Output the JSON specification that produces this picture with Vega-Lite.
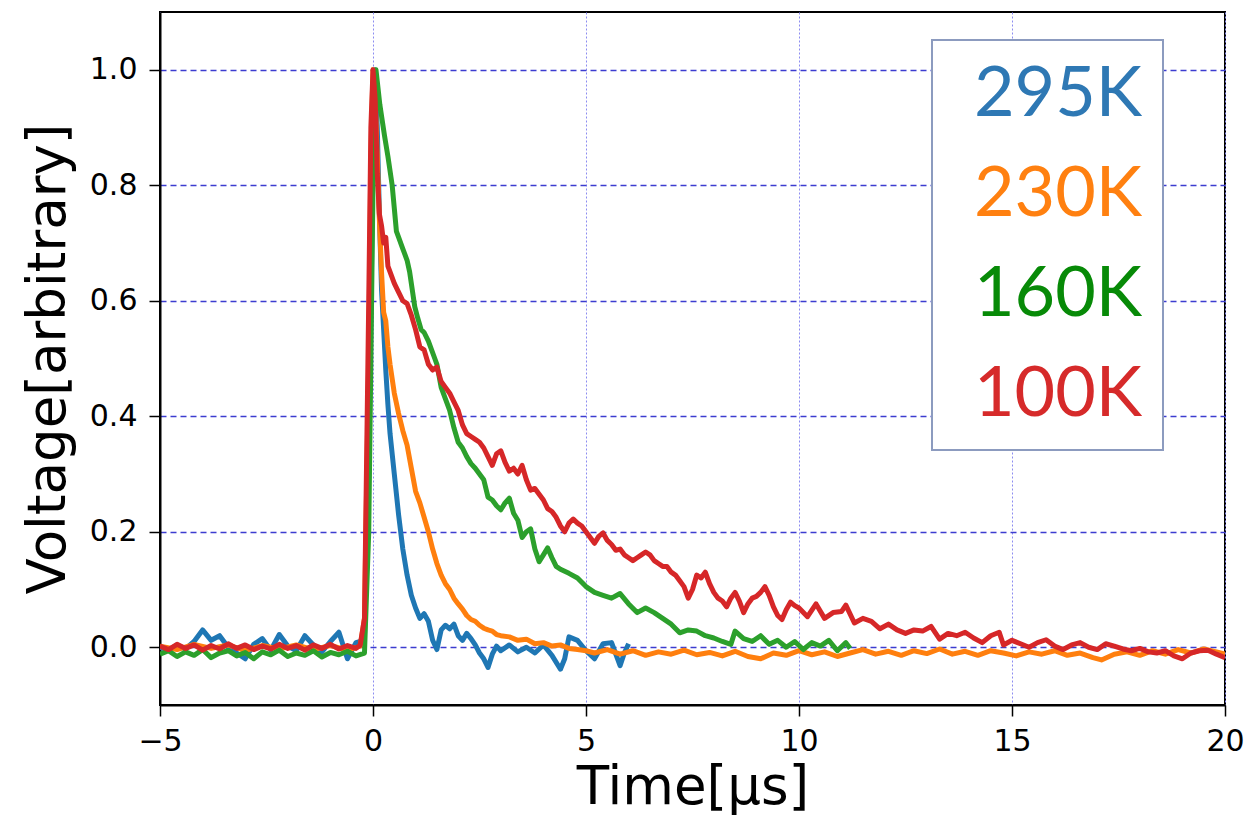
{
"$schema": "https://vega.github.io/schema/vega-lite/v6.json",
"width": 1065, "height": 693,
"autosize": {"type": "none"},
"padding": {"left": 160, "top": 12, "right": 23, "bottom": 111},
"background": "white",
"config": {
  "view": {"stroke": "black", "strokeWidth": 2},
  "font": "DejaVu Sans",
  "axis": {"labelColor": "black", "titleColor": "black", "tickColor": "black", "domainColor": "black", "domainWidth": 2, "tickWidth": 1.5, "tickSize": 11, "labelFontSize": 30, "titleFontSize": 53, "titleFontWeight": "normal", "labelFont": "DejaVu Sans", "titleFont": "DejaVu Sans"}
},
"data": {"values": [
{"s":"295K","t":-5,"v":0.0},{"s":"295K","t":-4.8,"v":-0.005},{"s":"295K","t":-4.6,"v":0.004},{"s":"295K","t":-4.4,"v":-0.003},{"s":"295K","t":-4.2,"v":0.01},{"s":"295K","t":-4.0,"v":0.03},{"s":"295K","t":-3.8,"v":0.012},{"s":"295K","t":-3.6,"v":0.02},{"s":"295K","t":-3.4,"v":0.0},{"s":"295K","t":-3.2,"v":-0.01},{"s":"295K","t":-3.0,"v":-0.02},{"s":"295K","t":-2.8,"v":0.005},{"s":"295K","t":-2.6,"v":0.015},{"s":"295K","t":-2.4,"v":-0.005},{"s":"295K","t":-2.2,"v":0.022},{"s":"295K","t":-2.0,"v":0.002},{"s":"295K","t":-1.8,"v":-0.006},{"s":"295K","t":-1.6,"v":0.02},{"s":"295K","t":-1.4,"v":0.004},{"s":"295K","t":-1.2,"v":-0.008},{"s":"295K","t":-1.0,"v":0.01},{"s":"295K","t":-0.8,"v":0.026},{"s":"295K","t":-0.6,"v":-0.02},{"s":"295K","t":-0.4,"v":0.008},{"s":"295K","t":-0.3,"v":0.01},{"s":"295K","t":-0.2,"v":0.02},{"s":"295K","t":-0.1,"v":0.3},{"s":"295K","t":0.0,"v":0.85},{"s":"295K","t":0.05,"v":1.0},{"s":"295K","t":0.1,"v":0.9},{"s":"295K","t":0.15,"v":0.75},{"s":"295K","t":0.2,"v":0.62},{"s":"295K","t":0.25,"v":0.55},{"s":"295K","t":0.3,"v":0.48},{"s":"295K","t":0.35,"v":0.42},{"s":"295K","t":0.4,"v":0.37},{"s":"295K","t":0.5,"v":0.3},{"s":"295K","t":0.6,"v":0.23},{"s":"295K","t":0.7,"v":0.17},{"s":"295K","t":0.8,"v":0.125},{"s":"295K","t":0.9,"v":0.09},{"s":"295K","t":1.0,"v":0.068},{"s":"295K","t":1.1,"v":0.05},{"s":"295K","t":1.2,"v":0.058},{"s":"295K","t":1.3,"v":0.045},{"s":"295K","t":1.4,"v":0.012},{"s":"295K","t":1.5,"v":-0.004},{"s":"295K","t":1.6,"v":0.03},{"s":"295K","t":1.7,"v":0.038},{"s":"295K","t":1.8,"v":0.032},{"s":"295K","t":1.9,"v":0.04},{"s":"295K","t":2.0,"v":0.02},{"s":"295K","t":2.1,"v":0.012},{"s":"295K","t":2.2,"v":0.024},{"s":"295K","t":2.3,"v":0.015},{"s":"295K","t":2.4,"v":0.004},{"s":"295K","t":2.5,"v":-0.01},{"s":"295K","t":2.6,"v":-0.02},{"s":"295K","t":2.7,"v":-0.035},{"s":"295K","t":2.8,"v":-0.012},{"s":"295K","t":2.9,"v":0.002},{"s":"295K","t":3.0,"v":-0.006},{"s":"295K","t":3.2,"v":0.004},{"s":"295K","t":3.4,"v":-0.008},{"s":"295K","t":3.6,"v":0.0},{"s":"295K","t":3.8,"v":-0.01},{"s":"295K","t":4.0,"v":0.004},{"s":"295K","t":4.2,"v":-0.014},{"s":"295K","t":4.4,"v":-0.038},{"s":"295K","t":4.5,"v":-0.02},{"s":"295K","t":4.6,"v":0.018},{"s":"295K","t":4.8,"v":0.012},{"s":"295K","t":5.0,"v":-0.006},{"s":"295K","t":5.2,"v":-0.02},{"s":"295K","t":5.4,"v":0.006},{"s":"295K","t":5.6,"v":0.008},{"s":"295K","t":5.8,"v":-0.032},{"s":"295K","t":5.9,"v":-0.01},{"s":"295K","t":6.0,"v":0.006},
{"s":"230K","t":-5,"v":0.002},{"s":"230K","t":-4.6,"v":-0.004},{"s":"230K","t":-4.2,"v":0.005},{"s":"230K","t":-3.8,"v":-0.002},{"s":"230K","t":-3.4,"v":0.004},{"s":"230K","t":-3.0,"v":-0.006},{"s":"230K","t":-2.6,"v":0.003},{"s":"230K","t":-2.2,"v":-0.003},{"s":"230K","t":-1.8,"v":0.004},{"s":"230K","t":-1.4,"v":-0.004},{"s":"230K","t":-1.0,"v":0.003},{"s":"230K","t":-0.6,"v":-0.005},{"s":"230K","t":-0.3,"v":0.002},{"s":"230K","t":-0.2,"v":0.05},{"s":"230K","t":-0.1,"v":0.5},{"s":"230K","t":-0.05,"v":0.85},{"s":"230K","t":0.0,"v":1.0},{"s":"230K","t":0.05,"v":0.95},{"s":"230K","t":0.1,"v":0.85},{"s":"230K","t":0.15,"v":0.74},{"s":"230K","t":0.2,"v":0.65},{"s":"230K","t":0.25,"v":0.58},{"s":"230K","t":0.3,"v":0.565},{"s":"230K","t":0.35,"v":0.52},{"s":"230K","t":0.4,"v":0.49},{"s":"230K","t":0.5,"v":0.44},{"s":"230K","t":0.6,"v":0.405},{"s":"230K","t":0.7,"v":0.375},{"s":"230K","t":0.8,"v":0.35},{"s":"230K","t":0.9,"v":0.31},{"s":"230K","t":1.0,"v":0.27},{"s":"230K","t":1.1,"v":0.25},{"s":"230K","t":1.2,"v":0.225},{"s":"230K","t":1.3,"v":0.2},{"s":"230K","t":1.4,"v":0.17},{"s":"230K","t":1.5,"v":0.145},{"s":"230K","t":1.6,"v":0.125},{"s":"230K","t":1.7,"v":0.11},{"s":"230K","t":1.8,"v":0.1},{"s":"230K","t":1.9,"v":0.085},{"s":"230K","t":2.0,"v":0.075},{"s":"230K","t":2.1,"v":0.066},{"s":"230K","t":2.2,"v":0.055},{"s":"230K","t":2.3,"v":0.048},{"s":"230K","t":2.4,"v":0.045},{"s":"230K","t":2.5,"v":0.038},{"s":"230K","t":2.6,"v":0.033},{"s":"230K","t":2.7,"v":0.03},{"s":"230K","t":2.8,"v":0.028},{"s":"230K","t":2.9,"v":0.022},{"s":"230K","t":3.0,"v":0.02},{"s":"230K","t":3.2,"v":0.018},{"s":"230K","t":3.4,"v":0.012},{"s":"230K","t":3.6,"v":0.014},{"s":"230K","t":3.8,"v":0.006},{"s":"230K","t":4.0,"v":0.008},{"s":"230K","t":4.2,"v":0.002},{"s":"230K","t":4.4,"v":0.004},{"s":"230K","t":4.6,"v":-0.002},{"s":"230K","t":4.8,"v":-0.004},{"s":"230K","t":5.0,"v":-0.006},{"s":"230K","t":5.2,"v":-0.01},{"s":"230K","t":5.5,"v":-0.004},{"s":"230K","t":5.8,"v":-0.012},{"s":"230K","t":6.1,"v":-0.006},{"s":"230K","t":6.4,"v":-0.014},{"s":"230K","t":6.7,"v":-0.008},{"s":"230K","t":7.0,"v":-0.012},{"s":"230K","t":7.3,"v":-0.005},{"s":"230K","t":7.6,"v":-0.013},{"s":"230K","t":7.9,"v":-0.009},{"s":"230K","t":8.2,"v":-0.015},{"s":"230K","t":8.5,"v":-0.007},{"s":"230K","t":8.8,"v":-0.016},{"s":"230K","t":9.1,"v":-0.02},{"s":"230K","t":9.4,"v":-0.01},{"s":"230K","t":9.7,"v":-0.014},{"s":"230K","t":10.0,"v":-0.006},{"s":"230K","t":10.3,"v":-0.013},{"s":"230K","t":10.6,"v":-0.008},{"s":"230K","t":10.9,"v":-0.016},{"s":"230K","t":11.2,"v":-0.01},{"s":"230K","t":11.5,"v":-0.004},{"s":"230K","t":11.8,"v":-0.012},{"s":"230K","t":12.1,"v":-0.007},{"s":"230K","t":12.4,"v":-0.014},{"s":"230K","t":12.7,"v":-0.006},{"s":"230K","t":13.0,"v":-0.011},{"s":"230K","t":13.3,"v":-0.003},{"s":"230K","t":13.6,"v":-0.012},{"s":"230K","t":13.9,"v":-0.007},{"s":"230K","t":14.2,"v":-0.014},{"s":"230K","t":14.5,"v":-0.006},{"s":"230K","t":14.8,"v":-0.01},{"s":"230K","t":15.1,"v":-0.015},{"s":"230K","t":15.4,"v":-0.008},{"s":"230K","t":15.7,"v":-0.012},{"s":"230K","t":16.0,"v":-0.006},{"s":"230K","t":16.3,"v":-0.014},{"s":"230K","t":16.6,"v":-0.01},{"s":"230K","t":16.9,"v":-0.018},{"s":"230K","t":17.1,"v":-0.022},{"s":"230K","t":17.4,"v":-0.012},{"s":"230K","t":17.7,"v":-0.008},{"s":"230K","t":18.0,"v":-0.014},{"s":"230K","t":18.3,"v":-0.006},{"s":"230K","t":18.6,"v":-0.012},{"s":"230K","t":18.9,"v":-0.004},{"s":"230K","t":19.2,"v":-0.01},{"s":"230K","t":19.5,"v":-0.003},{"s":"230K","t":19.8,"v":-0.008},{"s":"230K","t":20.0,"v":-0.012},
{"s":"160K","t":-5,"v":-0.012},{"s":"160K","t":-4.8,"v":-0.006},{"s":"160K","t":-4.6,"v":-0.016},{"s":"160K","t":-4.4,"v":-0.008},{"s":"160K","t":-4.2,"v":-0.014},{"s":"160K","t":-4.0,"v":-0.004},{"s":"160K","t":-3.8,"v":-0.018},{"s":"160K","t":-3.6,"v":-0.01},{"s":"160K","t":-3.4,"v":-0.006},{"s":"160K","t":-3.2,"v":-0.015},{"s":"160K","t":-3.0,"v":-0.009},{"s":"160K","t":-2.8,"v":-0.02},{"s":"160K","t":-2.6,"v":-0.008},{"s":"160K","t":-2.4,"v":-0.013},{"s":"160K","t":-2.2,"v":-0.005},{"s":"160K","t":-2.0,"v":-0.016},{"s":"160K","t":-1.8,"v":-0.01},{"s":"160K","t":-1.6,"v":-0.014},{"s":"160K","t":-1.4,"v":-0.006},{"s":"160K","t":-1.2,"v":-0.017},{"s":"160K","t":-1.0,"v":-0.009},{"s":"160K","t":-0.8,"v":-0.013},{"s":"160K","t":-0.6,"v":-0.007},{"s":"160K","t":-0.4,"v":-0.015},{"s":"160K","t":-0.2,"v":-0.01},{"s":"160K","t":-0.1,"v":0.2},{"s":"160K","t":0.0,"v":0.8},{"s":"160K","t":0.07,"v":1.0},{"s":"160K","t":0.1,"v":0.98},{"s":"160K","t":0.16,"v":0.94},{"s":"160K","t":0.2,"v":0.92},{"s":"160K","t":0.27,"v":0.886},{"s":"160K","t":0.35,"v":0.85},{"s":"160K","t":0.45,"v":0.8},{"s":"160K","t":0.5,"v":0.76},{"s":"160K","t":0.55,"v":0.72},{"s":"160K","t":0.6,"v":0.71},{"s":"160K","t":0.7,"v":0.69},{"s":"160K","t":0.8,"v":0.67},{"s":"160K","t":0.86,"v":0.65},{"s":"160K","t":0.98,"v":0.59},{"s":"160K","t":1.05,"v":0.57},{"s":"160K","t":1.13,"v":0.55},{"s":"160K","t":1.2,"v":0.545},{"s":"160K","t":1.3,"v":0.53},{"s":"160K","t":1.45,"v":0.5},{"s":"160K","t":1.5,"v":0.49},{"s":"160K","t":1.6,"v":0.45},{"s":"160K","t":1.7,"v":0.43},{"s":"160K","t":1.8,"v":0.41},{"s":"160K","t":1.9,"v":0.38},{"s":"160K","t":2.0,"v":0.355},{"s":"160K","t":2.1,"v":0.345},{"s":"160K","t":2.2,"v":0.33},{"s":"160K","t":2.3,"v":0.318},{"s":"160K","t":2.4,"v":0.31},{"s":"160K","t":2.5,"v":0.3},{"s":"160K","t":2.6,"v":0.29},{"s":"160K","t":2.7,"v":0.26},{"s":"160K","t":2.8,"v":0.255},{"s":"160K","t":2.9,"v":0.245},{"s":"160K","t":3.0,"v":0.238},{"s":"160K","t":3.1,"v":0.25},{"s":"160K","t":3.2,"v":0.258},{"s":"160K","t":3.3,"v":0.232},{"s":"160K","t":3.4,"v":0.22},{"s":"160K","t":3.5,"v":0.19},{"s":"160K","t":3.6,"v":0.2},{"s":"160K","t":3.7,"v":0.205},{"s":"160K","t":3.8,"v":0.17},{"s":"160K","t":3.9,"v":0.148},{"s":"160K","t":4.0,"v":0.16},{"s":"160K","t":4.1,"v":0.172},{"s":"160K","t":4.2,"v":0.155},{"s":"160K","t":4.3,"v":0.14},{"s":"160K","t":4.4,"v":0.135},{"s":"160K","t":4.6,"v":0.128},{"s":"160K","t":4.8,"v":0.12},{"s":"160K","t":5.0,"v":0.105},{"s":"160K","t":5.2,"v":0.095},{"s":"160K","t":5.4,"v":0.09},{"s":"160K","t":5.6,"v":0.085},{"s":"160K","t":5.8,"v":0.093},{"s":"160K","t":6.0,"v":0.075},{"s":"160K","t":6.2,"v":0.06},{"s":"160K","t":6.4,"v":0.068},{"s":"160K","t":6.6,"v":0.06},{"s":"160K","t":6.8,"v":0.05},{"s":"160K","t":7.0,"v":0.04},{"s":"160K","t":7.2,"v":0.025},{"s":"160K","t":7.4,"v":0.03},{"s":"160K","t":7.6,"v":0.028},{"s":"160K","t":7.8,"v":0.02},{"s":"160K","t":8.0,"v":0.016},{"s":"160K","t":8.2,"v":0.01},{"s":"160K","t":8.4,"v":0.005},{"s":"160K","t":8.5,"v":0.028},{"s":"160K","t":8.7,"v":0.015},{"s":"160K","t":8.9,"v":0.01},{"s":"160K","t":9.1,"v":0.02},{"s":"160K","t":9.3,"v":0.005},{"s":"160K","t":9.5,"v":0.012},{"s":"160K","t":9.7,"v":0.0},{"s":"160K","t":9.9,"v":0.01},{"s":"160K","t":10.1,"v":-0.004},{"s":"160K","t":10.3,"v":0.008},{"s":"160K","t":10.5,"v":0.002},{"s":"160K","t":10.7,"v":0.012},{"s":"160K","t":10.9,"v":-0.006},{"s":"160K","t":11.1,"v":0.008},{"s":"160K","t":11.2,"v":-0.002},
{"s":"100K","t":-5,"v":0.002},{"s":"100K","t":-4.8,"v":-0.004},{"s":"100K","t":-4.6,"v":0.005},{"s":"100K","t":-4.4,"v":-0.002},{"s":"100K","t":-4.2,"v":0.004},{"s":"100K","t":-4.0,"v":-0.005},{"s":"100K","t":-3.8,"v":0.003},{"s":"100K","t":-3.6,"v":-0.003},{"s":"100K","t":-3.4,"v":0.006},{"s":"100K","t":-3.2,"v":-0.002},{"s":"100K","t":-3.0,"v":0.004},{"s":"100K","t":-2.8,"v":-0.004},{"s":"100K","t":-2.6,"v":0.002},{"s":"100K","t":-2.4,"v":-0.003},{"s":"100K","t":-2.2,"v":0.005},{"s":"100K","t":-2.0,"v":-0.002},{"s":"100K","t":-1.8,"v":0.003},{"s":"100K","t":-1.6,"v":-0.005},{"s":"100K","t":-1.4,"v":0.004},{"s":"100K","t":-1.2,"v":-0.002},{"s":"100K","t":-1.0,"v":0.005},{"s":"100K","t":-0.8,"v":-0.003},{"s":"100K","t":-0.6,"v":0.003},{"s":"100K","t":-0.4,"v":-0.002},{"s":"100K","t":-0.3,"v":0.004},{"s":"100K","t":-0.2,"v":0.05},{"s":"100K","t":-0.1,"v":0.6},{"s":"100K","t":-0.05,"v":0.9},{"s":"100K","t":0.0,"v":1.0},{"s":"100K","t":0.05,"v":0.95},{"s":"100K","t":0.1,"v":0.82},{"s":"100K","t":0.15,"v":0.75},{"s":"100K","t":0.2,"v":0.73},{"s":"100K","t":0.25,"v":0.7},{"s":"100K","t":0.3,"v":0.71},{"s":"100K","t":0.35,"v":0.66},{"s":"100K","t":0.4,"v":0.65},{"s":"100K","t":0.5,"v":0.63},{"s":"100K","t":0.6,"v":0.615},{"s":"100K","t":0.7,"v":0.6},{"s":"100K","t":0.8,"v":0.595},{"s":"100K","t":0.9,"v":0.575},{"s":"100K","t":1.0,"v":0.55},{"s":"100K","t":1.1,"v":0.52},{"s":"100K","t":1.2,"v":0.515},{"s":"100K","t":1.3,"v":0.49},{"s":"100K","t":1.4,"v":0.48},{"s":"100K","t":1.5,"v":0.485},{"s":"100K","t":1.6,"v":0.46},{"s":"100K","t":1.7,"v":0.45},{"s":"100K","t":1.8,"v":0.44},{"s":"100K","t":1.9,"v":0.425},{"s":"100K","t":2.0,"v":0.41},{"s":"100K","t":2.1,"v":0.385},{"s":"100K","t":2.2,"v":0.37},{"s":"100K","t":2.3,"v":0.365},{"s":"100K","t":2.4,"v":0.36},{"s":"100K","t":2.5,"v":0.355},{"s":"100K","t":2.6,"v":0.345},{"s":"100K","t":2.7,"v":0.33},{"s":"100K","t":2.8,"v":0.315},{"s":"100K","t":2.9,"v":0.335},{"s":"100K","t":3.0,"v":0.34},{"s":"100K","t":3.1,"v":0.32},{"s":"100K","t":3.2,"v":0.305},{"s":"100K","t":3.3,"v":0.31},{"s":"100K","t":3.4,"v":0.3},{"s":"100K","t":3.5,"v":0.315},{"s":"100K","t":3.6,"v":0.29},{"s":"100K","t":3.7,"v":0.272},{"s":"100K","t":3.8,"v":0.275},{"s":"100K","t":3.9,"v":0.265},{"s":"100K","t":4.0,"v":0.255},{"s":"100K","t":4.1,"v":0.24},{"s":"100K","t":4.2,"v":0.235},{"s":"100K","t":4.3,"v":0.225},{"s":"100K","t":4.4,"v":0.21},{"s":"100K","t":4.5,"v":0.2},{"s":"100K","t":4.6,"v":0.215},{"s":"100K","t":4.7,"v":0.222},{"s":"100K","t":4.8,"v":0.215},{"s":"100K","t":4.9,"v":0.21},{"s":"100K","t":5.0,"v":0.2},{"s":"100K","t":5.1,"v":0.19},{"s":"100K","t":5.2,"v":0.18},{"s":"100K","t":5.3,"v":0.192},{"s":"100K","t":5.4,"v":0.198},{"s":"100K","t":5.5,"v":0.185},{"s":"100K","t":5.6,"v":0.178},{"s":"100K","t":5.7,"v":0.168},{"s":"100K","t":5.8,"v":0.17},{"s":"100K","t":5.9,"v":0.16},{"s":"100K","t":6.0,"v":0.155},{"s":"100K","t":6.1,"v":0.15},{"s":"100K","t":6.2,"v":0.155},{"s":"100K","t":6.3,"v":0.16},{"s":"100K","t":6.4,"v":0.165},{"s":"100K","t":6.5,"v":0.16},{"s":"100K","t":6.6,"v":0.15},{"s":"100K","t":6.7,"v":0.145},{"s":"100K","t":6.8,"v":0.14},{"s":"100K","t":6.9,"v":0.14},{"s":"100K","t":7.0,"v":0.13},{"s":"100K","t":7.1,"v":0.125},{"s":"100K","t":7.2,"v":0.115},{"s":"100K","t":7.3,"v":0.105},{"s":"100K","t":7.4,"v":0.085},{"s":"100K","t":7.5,"v":0.1},{"s":"100K","t":7.6,"v":0.125},{"s":"100K","t":7.7,"v":0.12},{"s":"100K","t":7.8,"v":0.13},{"s":"100K","t":7.9,"v":0.11},{"s":"100K","t":8.0,"v":0.095},{"s":"100K","t":8.1,"v":0.085},{"s":"100K","t":8.2,"v":0.08},{"s":"100K","t":8.3,"v":0.07},{"s":"100K","t":8.4,"v":0.085},{"s":"100K","t":8.5,"v":0.095},{"s":"100K","t":8.6,"v":0.08},{"s":"100K","t":8.7,"v":0.06},{"s":"100K","t":8.8,"v":0.075},{"s":"100K","t":8.9,"v":0.085},{"s":"100K","t":9.0,"v":0.088},{"s":"100K","t":9.1,"v":0.095},{"s":"100K","t":9.2,"v":0.105},{"s":"100K","t":9.3,"v":0.09},{"s":"100K","t":9.4,"v":0.07},{"s":"100K","t":9.5,"v":0.055},{"s":"100K","t":9.6,"v":0.048},{"s":"100K","t":9.7,"v":0.065},{"s":"100K","t":9.8,"v":0.078},{"s":"100K","t":9.9,"v":0.072},{"s":"100K","t":10.0,"v":0.068},{"s":"100K","t":10.2,"v":0.053},{"s":"100K","t":10.4,"v":0.075},{"s":"100K","t":10.6,"v":0.05},{"s":"100K","t":10.8,"v":0.06},{"s":"100K","t":11.0,"v":0.062},{"s":"100K","t":11.1,"v":0.073},{"s":"100K","t":11.3,"v":0.042},{"s":"100K","t":11.5,"v":0.05},{"s":"100K","t":11.7,"v":0.045},{"s":"100K","t":11.9,"v":0.032},{"s":"100K","t":12.1,"v":0.04},{"s":"100K","t":12.3,"v":0.03},{"s":"100K","t":12.5,"v":0.024},{"s":"100K","t":12.7,"v":0.03},{"s":"100K","t":12.9,"v":0.028},{"s":"100K","t":13.1,"v":0.036},{"s":"100K","t":13.3,"v":0.014},{"s":"100K","t":13.5,"v":0.024},{"s":"100K","t":13.7,"v":0.02},{"s":"100K","t":13.9,"v":0.026},{"s":"100K","t":14.1,"v":0.016},{"s":"100K","t":14.3,"v":0.008},{"s":"100K","t":14.5,"v":0.02},{"s":"100K","t":14.7,"v":0.026},{"s":"100K","t":14.8,"v":0.004},{"s":"100K","t":15.0,"v":0.012},{"s":"100K","t":15.2,"v":0.006},{"s":"100K","t":15.4,"v":0.0},{"s":"100K","t":15.6,"v":0.008},{"s":"100K","t":15.8,"v":0.013},{"s":"100K","t":16.0,"v":0.002},{"s":"100K","t":16.2,"v":-0.004},{"s":"100K","t":16.4,"v":0.004},{"s":"100K","t":16.6,"v":0.008},{"s":"100K","t":16.8,"v":0.0},{"s":"100K","t":17.0,"v":-0.004},{"s":"100K","t":17.2,"v":0.006},{"s":"100K","t":17.4,"v":0.002},{"s":"100K","t":17.6,"v":-0.003},{"s":"100K","t":17.8,"v":-0.006},{"s":"100K","t":18.0,"v":-0.002},{"s":"100K","t":18.2,"v":-0.008},{"s":"100K","t":18.4,"v":-0.01},{"s":"100K","t":18.6,"v":-0.006},{"s":"100K","t":18.8,"v":-0.015},{"s":"100K","t":19.0,"v":-0.02},{"s":"100K","t":19.2,"v":-0.01},{"s":"100K","t":19.4,"v":-0.006},{"s":"100K","t":19.6,"v":-0.005},{"s":"100K","t":19.8,"v":-0.012},{"s":"100K","t":20.0,"v":-0.018}
]},
"encoding": {
  "x": {"field": "t", "type": "quantitative", "scale": {"domain": [-5, 20], "nice": false, "zero": false},
        "axis": {"values": [-5, 0, 5, 10, 15, 20], "title": "Time[μs]", "gridColor": "#8c8cf0", "gridDash": [2, 2], "gridWidth": 1, "labelPadding": 10, "titlePadding": 5, "labelFlush": false}},
  "y": {"field": "v", "type": "quantitative", "scale": {"domain": [-0.1, 1.1], "nice": false, "zero": false},
        "axis": {"values": [0, 0.2, 0.4, 0.6, 0.8, 1.0], "format": ".1f", "title": "Voltage[arbitrary]", "gridColor": "#3c3cd0", "gridDash": [6, 4], "gridWidth": 1.3, "labelPadding": 12, "titlePadding": 14, "labelFlush": false}},
  "color": {"field": "s", "type": "nominal",
        "scale": {"domain": ["295K", "230K", "160K", "100K"], "range": ["#1f77b4", "#ff7f0e", "#2ca02c", "#d62728"]},
        "legend": {"orient": "none", "legendX": 772, "legendY": 28, "title": null, "symbolSize": 0, "symbolOpacity": 0, "symbolStrokeWidth": 0,
                   "labelFont": "Lato", "labelFontSize": 70, "labelOffset": -48, "labelLimit": 500, "rowPadding": 30, "padding": 20,
                   "strokeColor": "#8c9bbf", "fillColor": "white",
                   "encode": {"legend": {"update": {"strokeWidth": {"value": 2}}},
                              "labels": {"update": {"fill": {"signal": "datum.value === '295K' ? '#2e78b4' : datum.value === '230K' ? '#ff8010' : datum.value === '160K' ? '#078a07' : '#d62a2a'"}}}}}}
},
"layer": [
  {"transform": [{"filter": "datum.s === '295K'"}], "mark": {"type": "line", "strokeWidth": 5, "clip": true, "strokeJoin": "round"}},
  {"transform": [{"filter": "datum.s === '230K'"}], "mark": {"type": "line", "strokeWidth": 5, "clip": true, "strokeJoin": "round"}},
  {"transform": [{"filter": "datum.s === '160K'"}], "mark": {"type": "line", "strokeWidth": 5, "clip": true, "strokeJoin": "round"}},
  {"transform": [{"filter": "datum.s === '100K'"}], "mark": {"type": "line", "strokeWidth": 5, "clip": true, "strokeJoin": "round"}}
]
}
